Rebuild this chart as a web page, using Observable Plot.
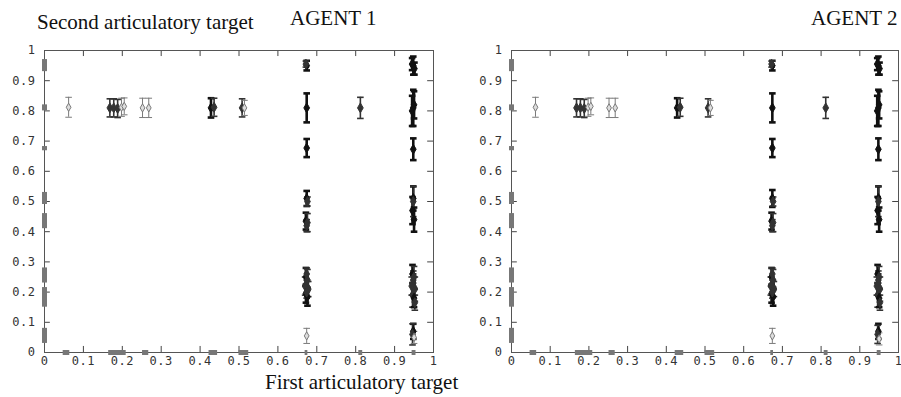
<!DOCTYPE html>
<html><head><meta charset="utf-8">
<script src="https://cdn.jsdelivr.net/npm/d3@7"></script>
<script src="https://cdn.jsdelivr.net/npm/@observablehq/plot@0.6"></script>
<style>
body{margin:0;background:#fff;width:901px;height:397px;overflow:hidden;position:relative;}
.t{position:absolute;font-family:"Liberation Serif","Times New Roman",serif;color:#111;white-space:nowrap;line-height:1;}
#p1,#p2{position:absolute;top:0;}
#p1{left:0px} #p2{left:450px}
svg{overflow:visible;max-width:none !important;}
</style></head><body>
<div id="p1"></div><div id="p2"></div>
<div class="t" style="left:37px;top:12px;font-size:21px">Second articulatory target</div>
<div class="t" style="left:290px;top:8px;font-size:21px">AGENT 1</div>
<div class="t" style="left:811px;top:8px;font-size:21px">AGENT 2</div>
<div class="t" style="left:265px;top:372px;font-size:21px">First articulatory target</div>
<script>
// tick labels
const xTicks = [0, 0.1, 0.2, 0.3, 0.4, 0.5, 0.6, 0.7, 0.8, 0.9, 1];
const yTicks = [0, 0.1, 0.2, 0.3, 0.4, 0.5, 0.6, 0.7, 0.8, 0.9, 1];

// error bars: [first target, second target, half error, count (1 light .. 3 heavy)]
const agent1Bars = [
  [0.062,0.812,0.033,1],[0.168,0.81,0.03,2],[0.178,0.81,0.03,2],[0.188,0.808,0.03,2],
  [0.198,0.812,0.03,1],[0.205,0.815,0.028,1],[0.252,0.81,0.032,1],[0.268,0.81,0.032,1],
  [0.428,0.81,0.032,3],[0.436,0.812,0.03,2],[0.508,0.81,0.03,2],[0.514,0.81,0.025,1],
  [0.674,0.81,0.048,3],[0.812,0.81,0.035,2],[0.948,0.81,0.06,3],[0.945,0.80,0.05,3],[0.950,0.82,0.045,3],
  [0.674,0.95,0.016,3],[0.672,0.955,0.01,2],[0.674,0.677,0.03,3],[0.674,0.51,0.025,3],[0.676,0.50,0.015,2],
  [0.672,0.435,0.028,3],[0.676,0.43,0.03,2],[0.674,0.42,0.02,2],
  [0.672,0.25,0.03,3],[0.676,0.24,0.035,2],[0.674,0.26,0.02,2],[0.670,0.22,0.03,2],[0.678,0.21,0.025,2],
  [0.672,0.195,0.03,3],[0.676,0.185,0.03,3],[0.674,0.20,0.02,2],[0.674,0.055,0.025,1],
  [0.948,0.95,0.03,3],[0.945,0.955,0.02,3],[0.951,0.94,0.02,3],[0.948,0.673,0.036,3],
  [0.948,0.51,0.04,3],[0.946,0.47,0.045,3],[0.950,0.44,0.04,3],[0.948,0.50,0.05,2],
  [0.946,0.26,0.03,3],[0.950,0.25,0.035,2],[0.948,0.23,0.04,2],[0.944,0.22,0.03,2],[0.952,0.21,0.04,2],
  [0.946,0.19,0.04,2],[0.950,0.18,0.03,3],[0.948,0.24,0.02,2],[0.952,0.165,0.025,2],
  [0.948,0.07,0.025,3],[0.946,0.06,0.035,2],[0.950,0.05,0.02,1]
];
const agent2Bars = [
  [0.062,0.812,0.033,1],[0.168,0.81,0.03,2],[0.178,0.81,0.03,2],[0.188,0.808,0.03,2],
  [0.198,0.812,0.03,1],[0.205,0.815,0.028,1],[0.252,0.81,0.032,1],[0.268,0.81,0.032,1],
  [0.428,0.81,0.032,3],[0.436,0.812,0.03,2],[0.508,0.81,0.03,2],[0.514,0.81,0.025,1],
  [0.674,0.81,0.048,3],[0.812,0.81,0.035,2],[0.948,0.81,0.06,3],[0.945,0.80,0.05,3],[0.950,0.82,0.045,3],
  [0.674,0.95,0.016,3],[0.672,0.955,0.01,2],[0.674,0.677,0.03,3],[0.674,0.51,0.028,3],[0.676,0.50,0.015,2],
  [0.672,0.435,0.028,3],[0.676,0.43,0.03,2],[0.674,0.42,0.02,2],
  [0.672,0.25,0.03,3],[0.676,0.24,0.035,2],[0.674,0.26,0.02,2],[0.670,0.22,0.03,2],[0.678,0.21,0.025,2],
  [0.672,0.195,0.03,3],[0.676,0.185,0.03,3],[0.674,0.20,0.02,2],[0.674,0.055,0.025,1],
  [0.948,0.95,0.03,3],[0.945,0.955,0.02,3],[0.951,0.94,0.02,3],[0.948,0.673,0.036,3],
  [0.948,0.51,0.04,3],[0.946,0.47,0.045,3],[0.950,0.44,0.04,3],[0.948,0.50,0.05,2],
  [0.946,0.26,0.03,3],[0.950,0.25,0.035,2],[0.948,0.23,0.04,2],[0.944,0.22,0.03,2],[0.952,0.21,0.04,2],
  [0.946,0.19,0.04,2],[0.950,0.18,0.03,3],[0.948,0.24,0.02,2],[0.952,0.165,0.025,2],
  [0.948,0.07,0.025,3],[0.946,0.06,0.03,2],[0.950,0.045,0.02,1]
];
// marks on the axes: [low, high]
const agent1AxisY = [[0.93,0.97],[0.80,0.82],[0.668,0.682],[0.49,0.53],[0.41,0.46],[0.23,0.28],[0.15,0.215],[0.03,0.08]];
const agent1AxisX = [[0.048,0.065],[0.165,0.21],[0.252,0.268],[0.423,0.445],[0.50,0.525],[0.67,0.677],[0.808,0.818],[0.945,0.955]];
const agent2AxisY = [[0.93,0.97],[0.80,0.82],[0.668,0.682],[0.49,0.53],[0.41,0.46],[0.23,0.28],[0.15,0.215],[0.03,0.08]];
const agent2AxisX = [[0.048,0.065],[0.165,0.21],[0.252,0.268],[0.423,0.445],[0.50,0.525],[0.67,0.677],[0.808,0.818],[0.945,0.955]];

const capSym = {draw(ctx, size){ const r = Math.sqrt(size/Math.PI); ctx.moveTo(-r,0); ctx.lineTo(r,0);} };
const col = n => n === 1 ? "#7a7a7a" : n === 2 ? "#333" : "#111";
const sw = n => n === 1 ? 1 : n === 2 ? 1.6 : 2.6;
const fmt = d => String(d);

function panel(barsRaw, axY, axX, ml, w, mr) {
  const bars = barsRaw.map(([x,y,e,n]) => ({x,y,e,n}));
  const caps = bars.flatMap(d => [{...d, cy: d.y - d.e}, {...d, cy: d.y + d.e}]);
  return Plot.plot({
    width: w, height: 372, marginLeft: ml, marginRight: mr, marginTop: 50, marginBottom: 20,
    x: {domain: [0, 1]}, y: {domain: [0, 1]},
    style: {fontFamily: "DejaVu Sans Mono", fontSize: "12px", color: "#333", background: "transparent", overflow: "visible", letterSpacing: "0.5px"},
    marks: [
      Plot.axisX({ticks: xTicks, tickSize: 0, tickPadding: 4, label: null, tickFormat: fmt}),
      Plot.axisY({ticks: yTicks, tickSize: 0, tickPadding: 9, label: null, tickFormat: fmt}),
      Plot.ruleX(xTicks, {x: d => d, y1: 0, y2: 0.02, stroke: "#444"}),
      Plot.ruleX(xTicks, {x: d => d, y1: 0.98, y2: 1, stroke: "#444"}),
      Plot.ruleY(yTicks, {y: d => d, x1: 0, x2: 0.015, stroke: "#444"}),
      Plot.ruleY(yTicks, {y: d => d, x1: 0.985, x2: 1, stroke: "#444"}),
      Plot.frame({stroke: "#555"}),
      Plot.ruleX(axY, {x: 0, y1: d => d[0], y2: d => d[1], stroke: "#777", strokeWidth: 5}),
      Plot.ruleY(axX, {y: 0, x1: d => d[0], x2: d => d[1], stroke: "#777", strokeWidth: 5}),
      Plot.ruleX(bars, {x: "x", y1: d => d.y - d.e, y2: d => d.y + d.e, stroke: d => col(d.n), strokeWidth: d => sw(d.n)}),
      Plot.dot(caps, {x: "x", y: "cy", r: 3.3, symbol: capSym, stroke: d => col(d.n), strokeWidth: d => sw(d.n), fill: "none"}),
      Plot.dot(bars, {x: "x", y: "y", r: d => d.n === 1 ? 1.8 : 2.6, symbol: "diamond", stroke: d => col(d.n), strokeWidth: 1, fill: d => d.n === 1 ? "#ddd" : col(d.n)})
    ]
  });
}
document.getElementById("p1").appendChild(panel(agent1Bars, agent1AxisY, agent1AxisX, 44, 450, 17));
document.getElementById("p2").appendChild(panel(agent2Bars, agent2AxisY, agent2AxisX, 61, 451, 3));
</script>
</body></html>
